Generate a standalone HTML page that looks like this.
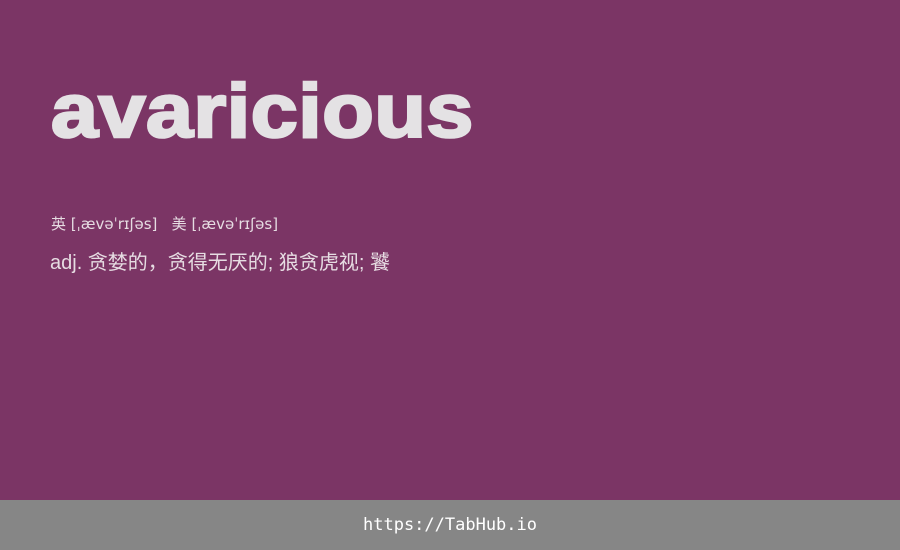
<!DOCTYPE html>
<html><head><meta charset="utf-8"><style>
html,body{margin:0;padding:0;width:900px;height:550px;overflow:hidden;background:#7b3565;}
.main{position:absolute;left:0;top:0;width:900px;height:500px;background:#7b3565;}
.word{position:absolute;left:51px;top:67px;font:bold 76px "Liberation Sans",sans-serif;color:#e4e2e4;line-height:90px;transform:scaleX(1.11);transform-origin:0 0;-webkit-text-stroke:2.6px #e4e2e4;letter-spacing:0.5px;}
.phon{position:absolute;left:51px;top:213px;font:15px "DejaVu Sans","Noto Sans CJK SC",sans-serif;color:#e6dce2;white-space:pre;}
.def{position:absolute;left:50px;top:246px;font:20px "Liberation Sans","Noto Sans CJK SC",sans-serif;color:#e6dce2;white-space:pre;}
.foot{position:absolute;left:0;top:500px;width:900px;height:50px;background:#868686;color:#fff;font:17px "DejaVu Sans Mono",monospace;text-align:center;line-height:50px;}
</style></head><body>
<div class="main">
<div class="word">avaricious</div>
<div class="phon">英 [ˌævəˈrɪʃəs]   美 [ˌævəˈrɪʃəs]</div>
<div class="def">adj. 贪婪的，贪得无厌的; 狼贪虎视; 饕</div>
</div>
<div class="foot">https://TabHub.io</div>
</body></html>
